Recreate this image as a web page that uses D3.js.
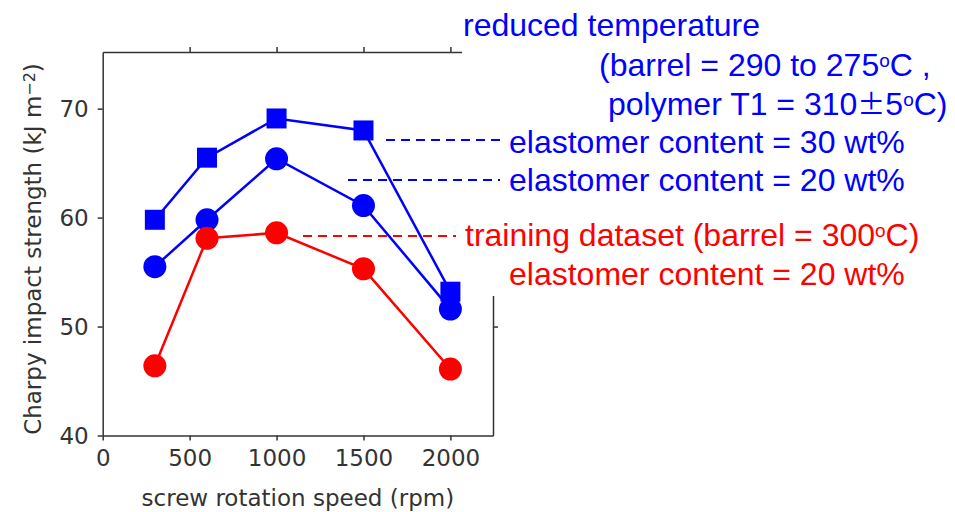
<!DOCTYPE html>
<html>
<head>
<meta charset="utf-8">
<script src="https://cdn.jsdelivr.net/npm/d3@7"></script>
<style>
  html, body { margin: 0; padding: 0; background: #fff; }
  svg { display: block; }
</style>
</head>
<body>
<div id="chart"></div>
<script>
// data
const speeds = [300, 600, 1000, 1500, 2000];
const reduced30 = [59.8, 65.5, 69.1, 68.0, 53.2];
const reduced20 = [55.5, 59.8, 65.4, 61.1, 51.6];
const training20 = [46.4, 58.1, 58.6, 55.3, 46.1];
const xTicks = [0, 500, 1000, 1500, 2000];
const yTicks = [40, 50, 60, 70];

const width = 955, height = 512;
const m = {left: 102.7, right: 493, top: 52, bottom: 435.5};

const svg = d3.select('#chart').append('svg')
    .attr('width', width)
    .attr('height', height);

const x = d3.scaleLinear().domain([0, 2245]).range([m.left, m.right]);
const y = d3.scaleLinear().domain([40, 75.2]).range([m.bottom, m.top]);

const tickFont = '"DejaVu Sans", sans-serif';
const axisColor = '#333';
const labelSize = '23px';

function styleAxis(g) {
  g.selectAll('path, line').attr('stroke', axisColor).attr('stroke-width', 1.5);
  g.selectAll('text').attr('fill', axisColor).style('font-family', tickFont).style('font-size', labelSize);
}

// axes
svg.append('g')
    .attr('transform', `translate(0,${m.bottom})`)
    .call(d3.axisBottom(x).tickValues(xTicks).tickFormat(d3.format('d')).tickSize(5).tickSizeOuter(0).tickPadding(9))
    .call(styleAxis);

svg.append('g')
    .attr('transform', `translate(${m.left},0)`)
    .call(d3.axisLeft(y).tickValues(yTicks).tickFormat(d3.format('d')).tickSize(5).tickSizeOuter(0).tickPadding(9))
    .call(g => g.selectAll('text').attr('dy', '0.36em'))
    .call(styleAxis);

svg.append('g')
    .attr('transform', `translate(0,${m.top})`)
    .call(d3.axisTop(x).tickValues(xTicks.slice(1)).tickSize(5).tickSizeOuter(0).tickFormat(''))
    .call(styleAxis);

svg.append('g')
    .attr('transform', `translate(${m.right},0)`)
    .call(d3.axisRight(y).tickValues(yTicks.slice(1)).tickSize(5).tickSizeOuter(0).tickFormat(''))
    .call(styleAxis);

// annotation box covers part of the frame
svg.append('rect')
    .attr('x', 462).attr('y', 0)
    .attr('width', width - 462).attr('height', 296)
    .attr('fill', '#fff');

// axis labels
svg.append('text')
    .attr('x', (m.left + m.right) / 2)
    .attr('y', 506)
    .attr('text-anchor', 'middle')
    .attr('fill', axisColor)
    .style('font-family', tickFont)
    .style('font-size', labelSize)
    .text('screw rotation speed (rpm)');

const yl = svg.append('text')
    .attr('transform', 'translate(41,249) rotate(-90)')
    .attr('text-anchor', 'middle')
    .attr('fill', axisColor)
    .style('font-family', tickFont)
    .style('font-size', labelSize);
yl.append('tspan').text('Charpy impact strength (kJ m');
yl.append('tspan').attr('baseline-shift', '40%').style('font-size', '16px').text('\u22122');
yl.append('tspan').text(')');

// series
const series = [
  {values: reduced30, color: '#0000ff', shape: 'square'},
  {values: reduced20, color: '#0000ff', shape: 'circle'},
  {values: training20, color: '#ff0000', shape: 'circle'}
];

const line = d3.line().x(d => x(d[0])).y(d => y(d[1]));

series.forEach(s => {
  const pts = speeds.map((v, i) => [v, s.values[i]]);
  svg.append('path')
      .datum(pts)
      .attr('d', line)
      .attr('fill', 'none')
      .attr('stroke', s.color)
      .attr('stroke-width', 2.5);

  const sym = d3.symbol()
      .type(s.shape === 'square' ? d3.symbolSquare : d3.symbolCircle)
      .size(s.shape === 'square' ? 20 * 20 : Math.PI * 11.5 * 11.5);

  svg.append('g').selectAll('path')
      .data(pts)
      .join('path')
      .attr('transform', d => `translate(${x(d[0])},${y(d[1])})`)
      .attr('d', sym)
      .attr('fill', s.color);
});

// leader lines
const leaders = [
  {x1: 386, x2: 500, y: 140, color: '#0000ff'},
  {x1: 348, x2: 500, y: 180, color: '#0000ff'},
  {x1: 303, x2: 456, y: 236, color: '#ff0000'}
];
svg.append('g').selectAll('line')
    .data(leaders)
    .join('line')
    .attr('x1', d => d.x1).attr('x2', d => d.x2)
    .attr('y1', d => d.y).attr('y2', d => d.y)
    .attr('stroke', d => d.color)
    .attr('stroke-width', 2)
    .attr('stroke-dasharray', '9,6');

// annotation text: parts are [text, kind] where kind is '', 'sup' or 'cjk'
const annoFont = '"Liberation Sans", Arial, sans-serif';
const annotations = [
  {x: 463, y: 36, color: '#0000ff', parts: [['reduced temperature', '']]},
  {x: 599, y: 76, color: '#0000ff', parts: [['(barrel = 290 to 275', ''], ['o', 'sup'], ['C ,', '']]},
  {x: 608, y: 115, color: '#0000ff', parts: [['polymer T1 = 310', ''], ['\u00b1', 'cjk'], ['5', ''], ['o', 'sup'], ['C)', '']]},
  {x: 509, y: 153, color: '#0000ff', parts: [['elastomer content = 30 wt%', '']]},
  {x: 509, y: 191, color: '#0000ff', parts: [['elastomer content = 20 wt%', '']]},
  {x: 465, y: 246, color: '#ff0000', parts: [['training dataset (barrel = 300', ''], ['o', 'sup'], ['C)', '']]},
  {x: 509, y: 285, color: '#ff0000', parts: [['elastomer content = 20 wt%', '']]}
];

annotations.forEach(a => {
  const t = svg.append('text')
      .attr('x', a.x)
      .attr('y', a.y)
      .attr('fill', a.color)
      .style('font-family', annoFont)
      .style('font-size', '32px');
  a.parts.forEach(([p, kind]) => {
    const ts = t.append('tspan').text(p);
    if (kind === 'sup') {
      ts.attr('baseline-shift', '45%').style('font-size', '19px');
    } else if (kind === 'cjk') {
      ts.style('font-family', '"Noto Sans CJK JP", sans-serif').style('font-size', '28px');
    }
  });
});
</script>
</body>
</html>
